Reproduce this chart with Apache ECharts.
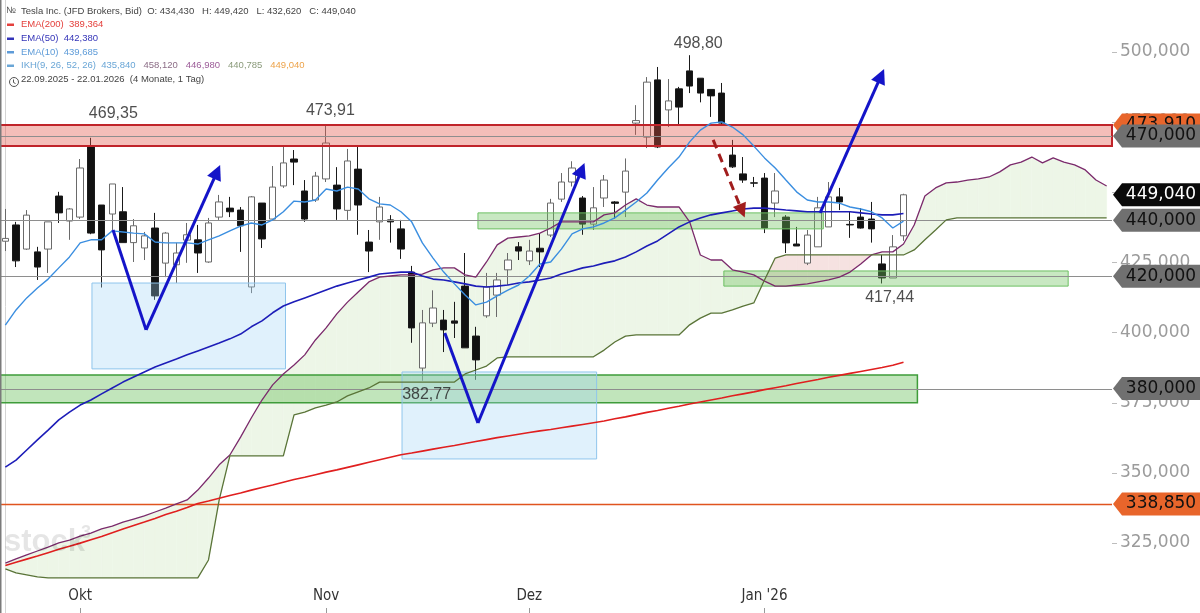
<!DOCTYPE html>
<html><head><meta charset="utf-8">
<script src="https://cdn.jsdelivr.net/npm/echarts@6/dist/echarts.min.js"></script>
<style>html,body{margin:0;padding:0;background:#fff}#c{width:1200px;height:613px}</style>
</head><body><div id="c"></div>
<script>
// ---------- DATA ----------
const dates = ['2025-09-22','2025-09-23','2025-09-24','2025-09-25','2025-09-26','2025-09-29','2025-09-30',
'2025-10-01','2025-10-02','2025-10-03','2025-10-06','2025-10-07','2025-10-08','2025-10-09','2025-10-10','2025-10-13','2025-10-14','2025-10-15','2025-10-16','2025-10-17','2025-10-20','2025-10-21','2025-10-22','2025-10-23','2025-10-24','2025-10-27','2025-10-28','2025-10-29','2025-10-30','2025-10-31',
'2025-11-03','2025-11-04','2025-11-05','2025-11-06','2025-11-07','2025-11-10','2025-11-11','2025-11-12','2025-11-13','2025-11-14','2025-11-17','2025-11-18','2025-11-19','2025-11-20','2025-11-21','2025-11-24','2025-11-25','2025-11-26','2025-11-28',
'2025-12-01','2025-12-02','2025-12-03','2025-12-04','2025-12-05','2025-12-08','2025-12-09','2025-12-10','2025-12-11','2025-12-12','2025-12-15','2025-12-16','2025-12-17','2025-12-18','2025-12-19','2025-12-22','2025-12-23','2025-12-24','2025-12-26','2025-12-29','2025-12-30','2025-12-31',
'2026-01-02','2026-01-05','2026-01-06','2026-01-07','2026-01-08','2026-01-09','2026-01-12','2026-01-13','2026-01-14','2026-01-15','2026-01-16','2026-01-20','2026-01-21','2026-01-22',
'2026-01-23','2026-01-26','2026-01-27','2026-01-28','2026-01-29','2026-01-30','2026-02-02','2026-02-03','2026-02-04','2026-02-05','2026-02-06','2026-02-09','2026-02-10','2026-02-11','2026-02-12','2026-02-13','2026-02-17','2026-02-18','2026-02-19'];

const monthLabels = {'2025-10-01':'Okt','2025-11-03':'Nov','2025-12-01':'Dez','2026-01-02':"Jan '26"};
const yTicks = [325,350,375,400,425,450,475,500];

// [open, high, low, close]
const ohlc = [
[432.5,444.0,429.0,433.5],[438.3,439.4,423.3,425.5],[429.7,443.6,429.4,441.8],[428.7,430.5,418.7,423.3],[429.7,439.4,421.2,439.4],
[448.6,450.1,439.0,442.6],[439.7,444.3,433.0,444.0],[441.1,461.8,440.4,458.6],[466.4,469.35,435.0,435.4],[445.4,445.4,416.0,429.4],
[442.2,452.9,436.5,452.9],[443.0,451.8,432.0,432.0],[432.0,440.4,425.1,438.0],[430.1,435.8,425.8,434.4],[437.2,442.6,411.6,413.0],
[424.7,435.8,419.7,435.4],[424.1,431.9,417.6,428.3],[432.9,439.0,424.8,434.8],[433.0,438.3,421.2,428.3],[425.1,440.8,424.8,439.0],
[441.1,449.0,440.1,446.5],[444.3,448.3,441.1,443.0],[443.6,444.7,428.7,438.0],[416.2,448.6,414.0,448.3],[446.1,446.1,430.1,433.3],
[440.4,459.3,440.1,451.8],[452.2,466.4,451.5,460.4],[461.8,465.0,452.5,460.7],[450.4,454.3,439.4,440.4],[447.2,457.2,446.5,455.7],
[454.7,473.91,453.6,467.5],[452.5,458.9,440.1,444.0],[443.5,465.4,440.1,461.1],[458.2,466.4,434.8,445.4],[432.2,436.5,421.5,429.0],
[439.4,448.3,433.0,444.7],[440.1,441.8,432.0,439.4],[436.9,440.1,426.2,429.7],[421.5,423.7,396.3,401.6],[387.3,408.0,382.77,403.4],
[403.3,415.0,401.9,408.7],[404.4,408.0,393.0,400.9],[404.1,410.9,398.0,403.3],[416.5,428.3,394.5,394.5],[398.7,402.0,383.1,390.2],
[405.9,421.2,405.2,416.2],[413.3,421.2,405.5,418.7],[422.3,428.3,416.9,425.8],[430.5,432.2,425.8,429.0],[425.5,433.0,424.0,429.0],
[430.0,435.4,423.3,428.7],[434.7,447.6,434.0,446.1],[447.5,456.8,446.5,453.6],[453.6,461.0,452.0,458.6],[447.9,448.6,434.8,438.6],
[438.6,451.8,436.5,444.4],[447.9,456.1,444.7,454.3],[446.5,446.8,440.5,446.0],[450.0,462.0,441.1,457.5],[474.6,481.0,470.4,475.5],
[469.6,491.0,465.7,489.2],[490.0,494.6,465.7,466.1],[479.3,490.3,473.2,482.5],[486.8,487.5,474.0,480.3],[493.2,498.8,485.3,487.8],
[490.6,490.6,482.0,485.3],[486.6,486.6,476.8,484.3],[485.3,488.9,473.9,474.6],[463.2,468.6,458.6,459.0],[456.5,462.5,453.3,454.3],
[453.3,455.4,451.8,453.2],[455.0,456.8,435.4,437.2],[446.1,456.8,441.1,450.4],[441.1,441.8,428.3,431.9],[431.5,437.6,430.8,430.8],
[424.7,436.5,424.0,434.7],[430.5,448.3,430.5,444.4],[437.6,453.6,437.6,448.3],[448.3,451.5,443.6,446.5],[438.5,443.0,433.7,438.3],
[441.1,444.3,437.0,437.2],[440.4,446.5,432.0,436.9],[424.4,427.6,417.44,419.4],[419.4,434.7,419.4,430.5],[434.43,449.42,432.62,449.04]
];

const ema200 = [316.9,318.1,319.2,320.3,321.5,322.7,323.8,324.9,326.1,327.3,
328.6,329.9,331.2,332.4,333.7,335.1,336.3,337.6,339.0,339.9,
340.9,341.9,342.8,343.8,344.7,345.6,346.6,347.6,348.4,349.3,
350.2,351.0,351.9,352.8,353.7,354.6,355.5,356.4,357.0,357.7,
358.4,359.1,359.7,360.4,361.1,361.8,362.5,363.1,363.7,364.3,
364.9,365.4,366.0,366.6,367.2,367.8,368.4,369.2,369.9,370.7,
371.5,372.2,373.0,373.7,374.5,375.2,375.9,376.6,377.4,378.1,
378.8,379.6,380.3,381.0,381.8,382.5,383.2,384.0,384.7,385.4,
386.1,386.8,387.5,388.3,389.364];

const ema50 = [352.0,354.5,358.1,361.7,365.2,368.8,371.6,374.1,375.9,378.1,
380.2,382.3,384.1,385.9,387.7,389.1,390.5,392.0,393.4,394.8,
396.2,397.7,399.4,402.0,404.1,407.0,409.4,410.9,412.3,413.7,
415.1,416.5,417.6,418.7,419.7,420.8,421.2,421.5,421.5,420.1,
419.0,418.7,418.0,417.3,416.5,416.2,416.5,416.9,417.6,418.0,
418.7,419.4,420.8,421.9,423.0,423.7,424.7,425.5,426.9,428.7,
430.8,432.6,435.1,437.6,439.4,440.8,441.9,442.6,443.3,444.0,
444.3,444.3,444.0,443.6,443.3,443.0,443.0,443.0,443.0,443.0,
442.6,442.2,441.9,441.9,442.38];

const ema10 = [402.6,408.0,412.3,415.8,419.0,423.0,426.9,431.9,433.0,433.0,
436.2,435.8,435.4,435.1,432.2,431.9,431.9,431.9,431.5,433.0,
434.4,436.2,437.9,439.0,438.3,440.1,443.0,446.8,446.5,447.2,
451.1,450.4,451.8,451.1,447.6,445.8,445.4,443.0,439.4,431.9,
426.5,421.5,417.3,413.3,409.8,410.8,413.0,415.1,416.9,420.1,
424.4,425.1,429.7,435.1,436.9,437.6,439.0,440.8,443.6,446.5,
449.7,454.3,458.6,462.5,467.9,472.1,474.6,475.0,473.2,470.4,
466.4,462.2,458.6,454.3,450.1,447.2,446.5,446.5,446.1,444.7,
444.0,443.0,440.8,437.2,439.685];

// Ichimoku cloud (shifted 26 periods forward)
const senkouA = [317.8,319.3,320.7,322.1,323.5,325.0,326.0,327.4,328.5,330.0,
331.0,332.4,333.5,334.6,336.0,337.4,338.9,340.3,343.8,348.1,
352.8,356.3,362.7,369.5,375.9,381.3,385.2,388.4,392.0,397.3,
401.6,406.6,410.8,414.4,418.0,419.7,420.1,420.5,420.5,420.8,
422.3,423.0,423.0,420.5,419.7,425.1,431.2,433.6,434.0,434.4,
435.4,437.2,439.4,439.4,439.4,439.4,441.9,442.6,445.4,447.6,
445.4,444.7,444.7,444.7,439.4,427.6,425.8,425.8,422.3,421.5,
420.5,418.3,416.5,416.5,416.9,417.3,418.0,418.7,419.7,421.5,
424.4,427.6,428.7,428.7,431.5,438.3,448.6,451.5,453.3,453.6,
454.3,454.7,455.4,457.2,459.7,460.7,462.5,460.4,462.2,460.7,
459.7,457.9,454.3,452.2];

const senkouB = [315.7,314.3,313.6,312.9,312.5,312.5,312.5,312.5,312.5,312.5,
312.5,312.5,312.5,312.5,312.5,312.5,312.5,312.5,312.5,318.9,
340.3,356.0,356.0,356.0,356.0,356.0,356.0,370.6,371.6,373.1,
374.1,375.2,377.4,378.8,380.2,382.3,382.3,382.3,382.3,382.3,
382.3,382.3,382.3,385.2,386.6,388.0,390.9,391.3,391.3,391.3,
391.3,391.3,391.3,391.3,391.3,391.3,393.7,396.6,398.7,399.1,
399.1,399.1,399.1,399.1,402.7,405.1,406.9,406.9,408.0,409.4,
410.5,418.7,426.5,427.6,427.6,427.6,427.6,427.6,427.6,427.6,
427.6,427.6,427.6,427.6,427.6,429.4,433.0,436.5,440.1,440.8,
440.8,440.8,440.8,440.8,440.8,440.8,440.8,440.8,440.8,440.8,
440.8,440.8,440.8,440.8];

// horizontal price levels: [price, kind] kind 0 = grey, 1 = orange
const levels = [[470,0],[440,0],[420,0],[380,0],[338.85,1]];
// zones: [fromIdx, toIdx, top, bottom, kind] kind 0 red, 1 green, 2 green strong, 3 blue
const zones = [
 [-0.5,103.5,473.91,466.4,0],
 [44.2,76.5,442.6,436.9,1],
 [67.2,99.4,421.9,416.5,1],
 [-0.5,85.3,384.8,374.9,2],
 [8.1,26.2,417.6,387.0,3],
 [37.1,55.3,385.9,354.9,3]
];
// price tags on the right axis: [price, kind] 0 grey, 1 orange, 2 black
const priceTags = [[473.91,1],[470,0],[449.04,2],[440,0],[420,0],[380,0],[338.85,1]];
// drawn trend paths (index, price)
const vLegs = [
 [[10.07,436.5],[13.16,400.9]],
 [[41.1,399.8],[44.2,367.7]]
];
const arrowLegs = [
 [[13.16,400.9],[19.8,457.2]],
 [[44.2,367.7],[53.9,457.9]],
 [[76.2,442.6],[81.9,491.4]]
];
const dashedArrow = [[[66.2,468.6],[68.9,443.3]]];
// price callouts: [idx, price]
const callouts = [[10.1,477.9],[30.4,478.9],[64.8,502.8],[39.4,377.7],[82.7,412.3]];
const calloutText = ['469,35','473,91','498,80','382,77','417,44'];

// ---------- CHART ----------
const N = dates.length;
const chart = echarts.init(document.getElementById('c'), null, {width:1200, height:613});
const fmt3 = v => v.toFixed(3).replace('.', ',');
const candleData = ohlc.map(d => [d[0], d[3], d[2], d[1]]);
const cloudSeg = [];
for (let i = 0; i < N - 1; i++) cloudSeg.push([i, senkouA[i], senkouB[i], senkouA[i+1], senkouB[i+1]]);

const zoneStyles = [
 {fill:'rgba(226,84,72,0.38)', stroke:'#c0242a', lw:2},
 {fill:'rgba(110,195,95,0.38)', stroke:'#6cbf62', lw:1},
 {fill:'rgba(100,190,85,0.40)', stroke:'#3e9c3a', lw:1.5},
 {fill:'rgba(160,210,245,0.32)', stroke:'#8fc5ec', lw:1}
];
const tagStyles = [
 {bg:'#707070', fg:'#111'},
 {bg:'#e8652b', fg:'#111'},
 {bg:'#0a0a0a', fg:'#fff'}
];
const axisFont = "'DejaVu Sans', Verdana, sans-serif";
const legendFont = "Arial, 'Liberation Sans', sans-serif";

const option = {
 animation: false,
 backgroundColor: '#fff',
 title: [
  {left:21, top:6, padding:0, text:'Tesla Inc. (JFD Brokers, Bid)  O: 434,430   H: 449,420   L: 432,620   C: 449,040', textStyle:{fontSize:9.5, fontWeight:'normal', color:'#444', fontFamily:legendFont}},
  {left:21, top:19.5, padding:0, text:'EMA(200)  389,364', textStyle:{fontSize:9.5, fontWeight:'normal', color:'#e4403c', fontFamily:legendFont}},
  {left:21, top:33.5, padding:0, text:'EMA(50)  442,380', textStyle:{fontSize:9.5, fontWeight:'normal', color:'#3434b8', fontFamily:legendFont}},
  {left:21, top:47, padding:0, text:'EMA(10)  439,685', textStyle:{fontSize:9.5, fontWeight:'normal', color:'#5d9bd8', fontFamily:legendFont}},
  {left:21, top:60.5, padding:0, text:'{a|IKH(9, 26, 52, 26)}  {b|435,840}   {c|458,120}   {d|446,980}   {e|440,785}   {f|449,040}',
   textStyle:{fontSize:9.5, fontWeight:'normal', fontFamily:legendFont, rich:{
     a:{color:'#6aa6d6', fontSize:9.5, fontFamily:legendFont}, b:{color:'#6aa6d6', fontSize:9.5, fontFamily:legendFont},
     c:{color:'#8c6d86', fontSize:9.5, fontFamily:legendFont}, d:{color:'#9c5c98', fontSize:9.5, fontFamily:legendFont},
     e:{color:'#8a9a7a', fontSize:9.5, fontFamily:legendFont}, f:{color:'#eda34a', fontSize:9.5, fontFamily:legendFont}}}},
  {left:21, top:74.5, padding:0, text:'22.09.2025 - 22.01.2026  (4 Monate, 1 Tag)', textStyle:{fontSize:9.5, fontWeight:'normal', color:'#444', fontFamily:legendFont}}
 ],
 graphic: [
  {type:'line', z:50, shape:{x1:0.75, y1:0, x2:0.75, y2:613}, style:{stroke:'#7a7a7a', lineWidth:1.5}},
  {type:'text', left:6, top:6, style:{text:'№', font:'9px '+legendFont, fill:'#555'}},
  {type:'rect', left:7, top:23.5, shape:{width:7, height:2.5}, style:{fill:'#e4403c'}},
  {type:'rect', left:7, top:37.5, shape:{width:7, height:2.5}, style:{fill:'#3434b8'}},
  {type:'rect', left:7, top:51, shape:{width:7, height:2.5}, style:{fill:'#5d9bd8'}},
  {type:'rect', left:7, top:64.5, shape:{width:7, height:2.5}, style:{fill:'#6aa6d6'}},
  {type:'circle', left:7, top:75, shape:{r:4.5}, style:{fill:'none', stroke:'#555', lineWidth:1}},
  {type:'polyline', left:11, top:77, shape:{points:[[0,0],[0,3],[2,4]]}, style:{fill:'none', stroke:'#555', lineWidth:1}},
  {type:'text', z:50, left:4, top:527, style:{text:'stock', font:'bold 31px Arial', fill:'rgba(0,0,0,0.10)'}},
  {type:'text', z:50, left:81, top:524, style:{text:'3', font:'bold 18px Arial', fill:'rgba(0,0,0,0.10)'}}
 ],
 grid: {left:0, right:88, top:0, bottom:0, containLabel:false},
 xAxis: [
  {type:'category', data:dates, boundaryGap:true,
   axisLine:{show:false},
   axisTick:{show:true, inside:true, length:5, alignWithLabel:true, interval:(i,v)=>!!monthLabels[v], lineStyle:{color:'#999'}},
   axisLabel:{inside:true, margin:9, interval:(i,v)=>!!monthLabels[v], formatter:v=>monthLabels[v]||'', color:'#333', fontSize:15,
     fontFamily:"'Liberation Sans Narrow', 'DejaVu Sans Condensed', 'Roboto', sans-serif"},
   splitLine:{show:false}},
  {type:'value', min:-0.5, max:N-0.5, show:false}
 ],
 yAxis: [
  {type:'value', position:'right', min:300, max:518.47, interval:25,
   axisLine:{show:true, lineStyle:{color:'#d4d4d4'}},
   axisTick:{show:false},
   minorTick:{show:false},
   axisLabel:{formatter:fmt3, color:'#9b9b9b', fontSize:17, fontFamily:axisFont, margin:8, showMinLabel:false, showMaxLabel:false},
   splitLine:{show:false}}
 ],
 series: [
  {type:'custom', name:'cloud', xAxisIndex:1, yAxisIndex:0, z:1, silent:true, data:cloudSeg,
   renderItem:function(params, api){
     const i=api.value(0), a0=api.value(1), b0=api.value(2), a1=api.value(3), b1=api.value(4);
     const P=(x,v)=>api.coord([x,v]);
     const G='#edf6e7', R='#f6e2e1';
     const d0=a0-b0, d1=a1-b1;
     const poly=(pts,f)=>({type:'polygon', shape:{points:pts}, style:{fill:f, stroke:f, lineWidth:0.6}});
     if (d0*d1 < 0) {
       const t=d0/(d0-d1), xm=i+t, vm=a0+t*(a1-a0);
       return {type:'group', children:[poly([P(i,a0),P(xm,vm),P(i,b0)], d0>0?G:R), poly([P(xm,vm),P(i+1,a1),P(i+1,b1)], d1>0?G:R)]};
     }
     return poly([P(i,a0),P(i+1,a1),P(i+1,b1),P(i,b0)], (d0+d1)>=0?G:R);
   }},
  {type:'candlestick', name:'Tesla', xAxisIndex:0, yAxisIndex:0, z:2, data:candleData, barWidth:7,
   itemStyle:{color:'#ffffff', color0:'#111111', borderColor:'#6a6a6a', borderColor0:'#1a1a1a', borderWidth:1}},
  {type:'custom', name:'zones', xAxisIndex:1, yAxisIndex:0, z:3, silent:true, data:zones,
   renderItem:function(params, api){
     const p0=api.coord([api.value(0), api.value(2)]);
     const p1=api.coord([api.value(1), api.value(3)]);
     const st=zoneStyles[api.value(4)];
     return {type:'rect', shape:{x:p0[0], y:p0[1], width:p1[0]-p0[0], height:p1[1]-p0[1]}, style:{fill:st.fill, stroke:st.stroke, lineWidth:st.lw}};
   }},
  {type:'custom', name:'levels', xAxisIndex:1, yAxisIndex:0, z:3, silent:true, data:levels,
   renderItem:function(params, api){
     const cs=params.coordSys; const y=Math.round(api.coord([0, api.value(0)])[1])+0.5;
     const orange=api.value(1)===1;
     return {type:'line', shape:{x1:cs.x, y1:y, x2:cs.x+cs.width, y2:y}, style:{stroke:orange?'#e0541f':'#8e8e8e', lineWidth:orange?1.3:1}};
   }},
  {type:'line', name:'SenkouA', data:senkouA, xAxisIndex:0, z:4, showSymbol:false, symbol:'none', lineStyle:{color:'#7b2a6c', width:1.3}},
  {type:'line', name:'SenkouB', data:senkouB, xAxisIndex:0, z:4, showSymbol:false, symbol:'none', lineStyle:{color:'#5a7438', width:1.3}},
  {type:'line', name:'EMA(200)', data:ema200, xAxisIndex:0, z:4, showSymbol:false, symbol:'none', lineStyle:{color:'#e01f1f', width:1.6}},
  {type:'line', name:'EMA(50)', data:ema50, xAxisIndex:0, z:4, showSymbol:false, symbol:'none', lineStyle:{color:'#1d1db8', width:1.6}},
  {type:'line', name:'EMA(10)', data:ema10, xAxisIndex:0, z:4, showSymbol:false, symbol:'none', lineStyle:{color:'#3a8ee0', width:1.4}},
  {type:'lines', coordinateSystem:'cartesian2d', xAxisIndex:1, yAxisIndex:0, z:5, silent:true, symbol:['none','none'],
   lineStyle:{color:'#1414c8', width:3, opacity:1}, data:vLegs.map(c=>({coords:c}))},
  {type:'lines', coordinateSystem:'cartesian2d', xAxisIndex:1, yAxisIndex:0, z:5, silent:true, symbol:['none','triangle'], symbolSize:15,
   lineStyle:{color:'#1414c8', width:3, opacity:1}, data:arrowLegs.map(c=>({coords:c}))},
  {type:'lines', coordinateSystem:'cartesian2d', xAxisIndex:1, yAxisIndex:0, z:5, silent:true, symbol:['none','triangle'], symbolSize:14,
   lineStyle:{color:'#a11d1d', width:3, type:[9,6], opacity:1}, data:dashedArrow.map(c=>({coords:c}))},
  {type:'scatter', name:'callouts', xAxisIndex:1, yAxisIndex:0, z:6, silent:true, symbolSize:0, data:callouts,
   label:{show:true, position:'inside', formatter:p=>calloutText[p.dataIndex], color:'#222', fontSize:16, fontFamily:legendFont}},
  {type:'custom', name:'yticks', xAxisIndex:1, yAxisIndex:0, z:6, silent:true, clip:false, data:yTicks.map(v=>[0,v]),
   renderItem:function(params, api){
     const cs=params.coordSys; const x0=cs.x+cs.width;
     const y=Math.round(api.coord([0, api.value(1)])[1])+0.5;
     return {type:'line', shape:{x1:x0, y1:y, x2:x0+5, y2:y}, style:{stroke:'#bdbdbd', lineWidth:1}};
   }},
  {type:'custom', name:'tags', xAxisIndex:1, yAxisIndex:0, z:7, silent:true, clip:false, data:priceTags,
   renderItem:function(params, api){
     const cs=params.coordSys; const x0=cs.x+cs.width+1;
     const y=api.coord([0, api.value(0)])[1];
     const W=api.getWidth(), h=23, tip=9;
     const st=tagStyles[api.value(1)];
     return {type:'group', children:[
       {type:'polygon', shape:{points:[[x0,y],[x0+tip,y-h/2],[W,y-h/2],[W,y+h/2],[x0+tip,y+h/2]]}, style:{fill:st.bg}},
       {type:'text', x:(x0+tip+W)/2, y:y, style:{text:fmt3(api.value(0)), fill:st.fg, font:'17px '+axisFont, align:'center', textAlign:'center', verticalAlign:'middle'}}
     ]};
   }}
 ]
};
chart.setOption(option);
</script></body></html>
